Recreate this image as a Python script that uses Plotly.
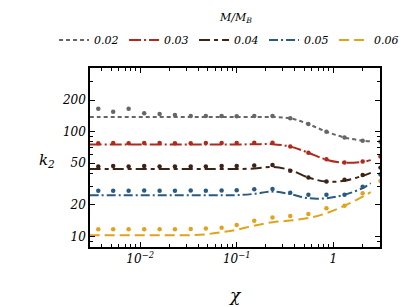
import plotly.graph_objects as go

# --- data ---
mass_ratios = ["0.02", "0.03", "0.04", "0.05", "0.06"]
colors = ["#666666", "#b0291c", "#3d2218", "#2a5a80", "#e0a31c"]
dashes = ["4px,3px", "12px,3px,2px,3px", "11px,4px,4px,4px", "9px,3px,2px,3px", "10px,5px"]

x_dots = [0.00368, 0.00525, 0.00759, 0.0110, 0.0159, 0.0229, 0.0334, 0.0479, 0.0698,
          0.100, 0.152, 0.235, 0.359, 0.553, 0.851, 1.31, 2.02, 3.09]
dots_002 = [165, 155, 165, 150, 147, 144, 141, 141, 141, 140, 141, 141, 134, 118, 100, 88, 82, 80]
dots_003 = [77.5, 78, 77.5, 78, 78, 77.5, 77.5, 78, 78, 78, 78.5, 78.5, 72, 63, 54.6, 50.7, 51.8, 58]
dots_004 = [46.5, 47, 46.5, 47, 46.5, 46.5, 46.5, 46.5, 47, 47, 47.5, 48, 42.3, 36.5, 33.4, 34.7, 38.7, 45.4]
dots_005 = [27.3, 27.3, 27.3, 27.4, 27.3, 27.3, 27.4, 27.3, 27.4, 27.6, 28.3, 28.4, 26.2, 25, 25, 25, 29.9, 39]
dots_006 = [11.7, 11.7, 11.7, 11.7, 11.7, 11.7, 11.8, 11.9, 12.1, 12.9, 14.1, 15.2, 15.7, 16.4, 18.6, 19.7, 25.9, 33.9]

x_line = [0.003, 0.00368, 0.00525, 0.00759, 0.0110, 0.0159, 0.0229, 0.0334, 0.0479, 0.0698,
          0.100, 0.152, 0.235, 0.359, 0.553, 0.851, 1.31, 2.02, 2.45]
line_002 = [138, 138, 138, 138, 138, 138, 138, 138, 138, 138, 138, 138, 138, 134, 118, 100, 88, 82, 81]
line_003 = [75.5, 75.5, 75.5, 75.5, 75.5, 75.5, 75.5, 75.5, 75.5, 75.5, 75.5, 75.8, 76, 72, 63, 54, 50.5, 51.5, 53.5]
line_004 = [44, 44, 44, 44, 44, 44, 44, 44, 44, 44, 44, 44.5, 46, 43, 36.5, 33.4, 34, 38, 40.5]
line_005 = [24.8, 24.8, 24.8, 24.8, 24.8, 24.8, 24.8, 24.8, 24.8, 24.8, 24.8, 25.5, 26.8, 25.4, 23.2, 23.2, 25, 29, 32.2]
line_006 = [10.3, 10.3, 10.3, 10.3, 10.3, 10.3, 10.3, 10.3, 10.5, 11, 11.6, 12.7, 13.7, 14.2, 15, 16.7, 19.7, 24, 26.5]

dots_all = [dots_002, dots_003, dots_004, dots_005, dots_006]
lines_all = [line_002, line_003, line_004, line_005, line_006]

y_tickvals = [10, 20, 50, 100, 200]
x_tickvals = [0.01, 0.1, 1]
x_ticktext = ["10<sup>\u22122</sup>", "10<sup>\u22121</sup>", "1"]

fig = go.Figure()
for name, col, dsh, ys in zip(mass_ratios, colors, dashes, lines_all):
    fig.add_trace(go.Scatter(x=x_line, y=ys, mode="lines", name=name,
                             line=dict(color=col, width=2, dash=dsh, shape="spline")))
for name, col, ys in zip(mass_ratios, colors, dots_all):
    fig.add_trace(go.Scatter(x=x_dots, y=ys, mode="markers", showlegend=False,
                             marker=dict(color=col, size=4.5), cliponaxis=True))

axis_common = dict(showline=True, linecolor="black", linewidth=1.5, mirror="allticks",
                   ticks="inside", ticklen=5, tickcolor="black", tickwidth=1,
                   showgrid=False, zeroline=False,
                   minor=dict(ticks="inside", ticklen=3, tickcolor="black", dtick="D1", showgrid=False))

fig.update_xaxes(type="log", range=[-2.52, 0.485], tickvals=x_tickvals, ticktext=x_ticktext,
                 tickfont=dict(size=12), **axis_common)
fig.update_yaxes(type="log", range=[0.90, 2.607], tickvals=y_tickvals,
                 tickfont=dict(size=12), **axis_common)

fig.add_annotation(text="k<sub>2</sub>", xref="paper", yref="paper", x=-0.183, y=0.486,
                   showarrow=False, font=dict(size=15))
fig.add_annotation(text="\u03c7", xref="paper", yref="paper", x=0.5, y=-0.268,
                   showarrow=False, font=dict(size=17), yanchor="middle")
fig.add_annotation(text="M/M<sub>B</sub>", xref="paper", yref="paper", x=0.5, y=1.279,
                   showarrow=False, font=dict(size=11), yanchor="middle")

fig.update_layout(
    width=407, height=307,
    margin=dict(l=82, r=35, t=60, b=68, autoexpand=False),
    paper_bgcolor="white", plot_bgcolor="white",
    font=dict(family="DejaVu Serif", size=11, color="black", style="italic"),
    showlegend=True,
    legend=dict(orientation="h", x=-0.124, xanchor="left", y=1.237, yanchor="top",
                font=dict(size=11), itemwidth=30, entrywidth=25, entrywidthmode="pixels",
                tracegroupgap=0, bgcolor="rgba(0,0,0,0)"),
)

fig.write_html("out.html")
